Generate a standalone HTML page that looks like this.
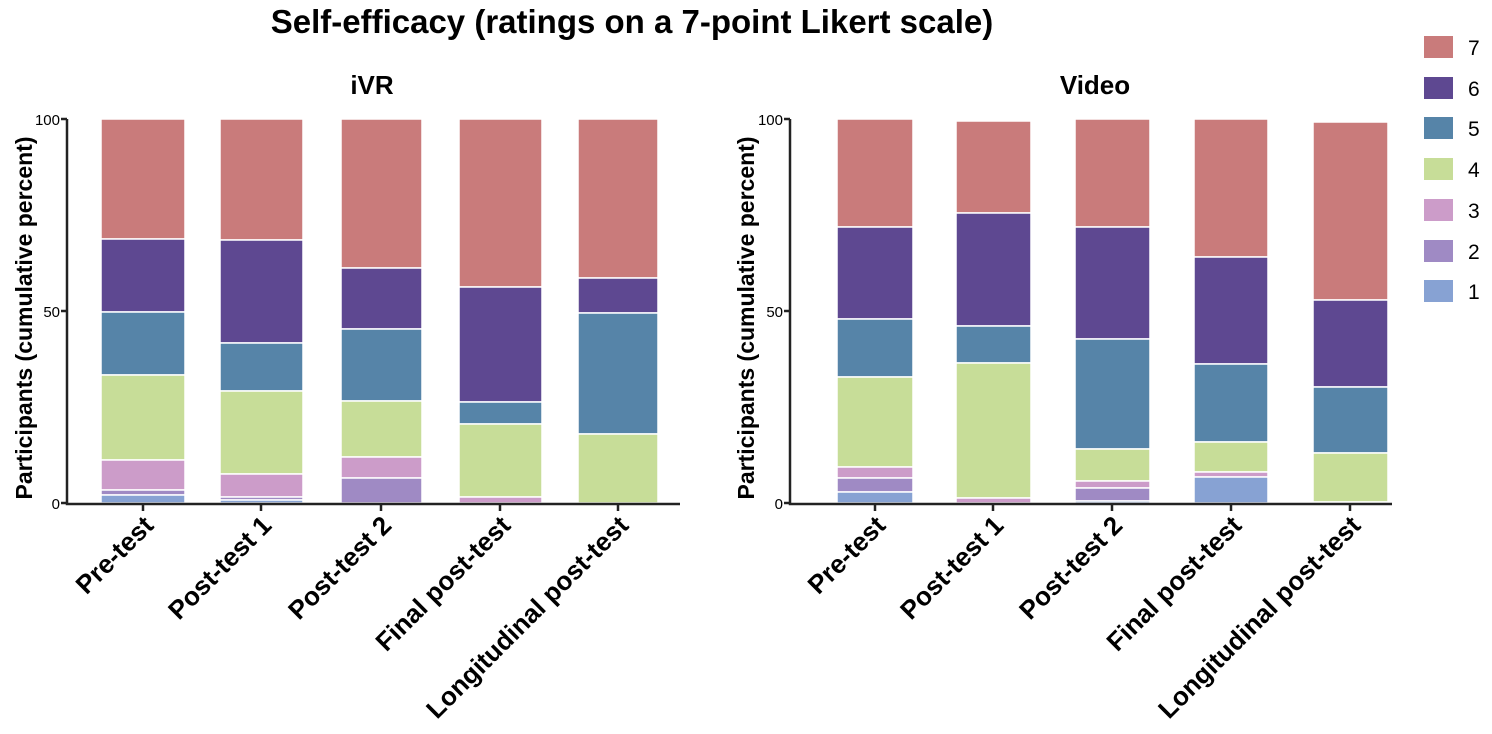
<!DOCTYPE html>
<html><head><style>body{margin:0;background:#fff}svg{display:block}</style></head><body>
<svg width="1492" height="734" xmlns="http://www.w3.org/2000/svg" font-family="Liberation Sans, Arial, sans-serif">
<text x="632" y="33" font-size="33" font-weight="bold" text-anchor="middle">Self-efficacy (ratings on a 7-point Likert scale)</text>
<text x="372" y="94" font-size="26" font-weight="bold" text-anchor="middle">iVR</text>
<text x="1095" y="94" font-size="26" font-weight="bold" text-anchor="middle">Video</text>
<text transform="translate(32,318) rotate(-90)" font-size="23" font-weight="bold" text-anchor="middle">Participants (cumulative percent)</text>
<text transform="translate(754,318) rotate(-90)" font-size="23" font-weight="bold" text-anchor="middle">Participants (cumulative percent)</text>
<g font-size="15" text-anchor="end">
<text x="60" y="125">100</text><text x="60" y="317">50</text><text x="60" y="509">0</text>
<text x="783" y="125">100</text><text x="783" y="317">50</text><text x="783" y="509">0</text>
</g>
<g stroke="#fff" stroke-width="1.5">
<rect x="101" y="119" width="84" height="120" fill="#c97b7b"/><rect x="101" y="239" width="84" height="73" fill="#5e4891"/><rect x="101" y="312" width="84" height="63" fill="#5684a8"/><rect x="101" y="375" width="84" height="85" fill="#c7dd98"/><rect x="101" y="460" width="84" height="30" fill="#cc9cc9"/><rect x="101" y="490" width="84" height="5" fill="#9f8ac4"/><rect x="101" y="495" width="84" height="8" fill="#87a2d3"/>
<rect x="220" y="119" width="83" height="121" fill="#c97b7b"/><rect x="220" y="240" width="83" height="103" fill="#5e4891"/><rect x="220" y="343" width="83" height="48" fill="#5684a8"/><rect x="220" y="391" width="83" height="83" fill="#c7dd98"/><rect x="220" y="474" width="83" height="23" fill="#cc9cc9"/><rect x="220" y="497" width="83" height="3" fill="#9f8ac4"/><rect x="220" y="500" width="83" height="3" fill="#87a2d3"/>
<rect x="341" y="119" width="81" height="149" fill="#c97b7b"/><rect x="341" y="268" width="81" height="61" fill="#5e4891"/><rect x="341" y="329" width="81" height="72" fill="#5684a8"/><rect x="341" y="401" width="81" height="56" fill="#c7dd98"/><rect x="341" y="457" width="81" height="21" fill="#cc9cc9"/><rect x="341" y="478" width="81" height="25" fill="#9f8ac4"/>
<rect x="459" y="119" width="83" height="168" fill="#c97b7b"/><rect x="459" y="287" width="83" height="115" fill="#5e4891"/><rect x="459" y="402" width="83" height="22" fill="#5684a8"/><rect x="459" y="424" width="83" height="73" fill="#c7dd98"/><rect x="459" y="497" width="83" height="6" fill="#cc9cc9"/>
<rect x="578" y="119" width="80" height="159" fill="#c97b7b"/><rect x="578" y="278" width="80" height="35" fill="#5e4891"/><rect x="578" y="313" width="80" height="121" fill="#5684a8"/><rect x="578" y="434" width="80" height="69" fill="#c7dd98"/>
<rect x="837" y="119" width="76" height="108" fill="#c97b7b"/><rect x="837" y="227" width="76" height="92" fill="#5e4891"/><rect x="837" y="319" width="76" height="58" fill="#5684a8"/><rect x="837" y="377" width="76" height="90" fill="#c7dd98"/><rect x="837" y="467" width="76" height="11" fill="#cc9cc9"/><rect x="837" y="478" width="76" height="14" fill="#9f8ac4"/><rect x="837" y="492" width="76" height="11" fill="#87a2d3"/>
<rect x="956" y="121" width="75" height="92" fill="#c97b7b"/><rect x="956" y="213" width="75" height="113" fill="#5e4891"/><rect x="956" y="326" width="75" height="37" fill="#5684a8"/><rect x="956" y="363" width="75" height="135" fill="#c7dd98"/><rect x="956" y="498" width="75" height="5" fill="#cc9cc9"/>
<rect x="1075" y="119" width="75" height="108" fill="#c97b7b"/><rect x="1075" y="227" width="75" height="112" fill="#5e4891"/><rect x="1075" y="339" width="75" height="110" fill="#5684a8"/><rect x="1075" y="449" width="75" height="32" fill="#c7dd98"/><rect x="1075" y="481" width="75" height="7" fill="#cc9cc9"/><rect x="1075" y="488" width="75" height="13" fill="#9f8ac4"/><rect x="1075" y="501" width="75" height="2" fill="#87a2d3"/>
<rect x="1194" y="119" width="74" height="138" fill="#c97b7b"/><rect x="1194" y="257" width="74" height="107" fill="#5e4891"/><rect x="1194" y="364" width="74" height="78" fill="#5684a8"/><rect x="1194" y="442" width="74" height="30" fill="#c7dd98"/><rect x="1194" y="472" width="74" height="5" fill="#cc9cc9"/><rect x="1194" y="477" width="74" height="26" fill="#87a2d3"/>
<rect x="1313" y="122" width="75" height="178" fill="#c97b7b"/><rect x="1313" y="300" width="75" height="87" fill="#5e4891"/><rect x="1313" y="387" width="75" height="66" fill="#5684a8"/><rect x="1313" y="453" width="75" height="49" fill="#c7dd98"/><rect x="1313" y="502" width="75" height="1" fill="#87a2d3"/>
</g>
<g stroke="#222" stroke-width="2.5" fill="none">
<path d="M67,119V504H680M61,119H67M61,311H67M61,503H67"/>
<path d="M790,119V504H1392M784,119H790M784,311H790M784,503H790"/>
<path d="M143,504v7M261,504v7M381,504v7M500,504v7M618,504v7M875,504v7M993,504v7M1112,504v7M1231,504v7M1350,504v7"/>
</g>
<g font-size="26" font-weight="bold" text-anchor="end">
<text transform="translate(155,527) rotate(-45)">Pre-test</text>
<text transform="translate(273,527) rotate(-45)">Post-test 1</text>
<text transform="translate(393,527) rotate(-45)">Post-test 2</text>
<text transform="translate(512,527) rotate(-45)">Final post-test</text>
<text transform="translate(630,527) rotate(-45)">Longitudinal post-test</text>
<text transform="translate(887,527) rotate(-45)">Pre-test</text>
<text transform="translate(1005,527) rotate(-45)">Post-test 1</text>
<text transform="translate(1124,527) rotate(-45)">Post-test 2</text>
<text transform="translate(1243,527) rotate(-45)">Final post-test</text>
<text transform="translate(1362,527) rotate(-45)">Longitudinal post-test</text>
</g>
<g font-size="21">
<rect x="1424" y="36" width="29" height="22" fill="#c97b7b"/><text x="1468" y="55">7</text>
<rect x="1424" y="77" width="29" height="22" fill="#5e4891"/><text x="1468" y="96">6</text>
<rect x="1424" y="117" width="29" height="22" fill="#5684a8"/><text x="1468" y="136">5</text>
<rect x="1424" y="158" width="29" height="22" fill="#c7dd98"/><text x="1468" y="177">4</text>
<rect x="1424" y="199" width="29" height="22" fill="#cc9cc9"/><text x="1468" y="218">3</text>
<rect x="1424" y="240" width="29" height="22" fill="#9f8ac4"/><text x="1468" y="259">2</text>
<rect x="1424" y="280" width="29" height="22" fill="#87a2d3"/><text x="1468" y="299">1</text>
</g>
</svg>
</body></html>
